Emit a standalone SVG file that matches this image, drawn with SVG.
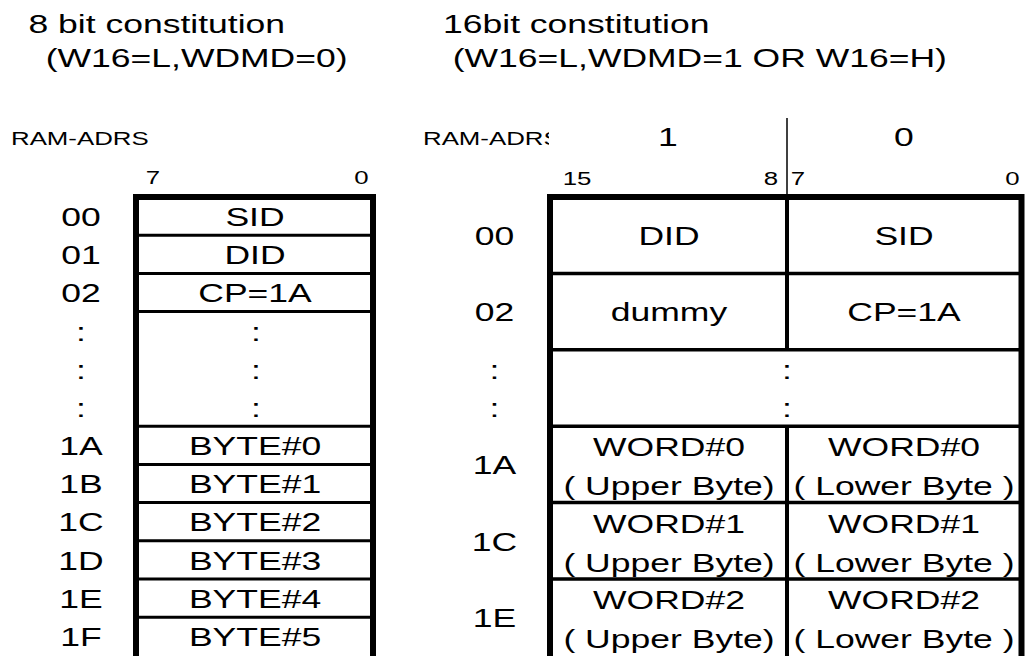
<svg xmlns="http://www.w3.org/2000/svg" width="1026" height="656" viewBox="0 0 1026 656">
<defs>
<style>
.t{font-family:"Liberation Sans",Arial,sans-serif;font-size:26.5px;fill:#000;text-anchor:middle}
.s{font-size:19px}
.st{text-anchor:start}
.thick{stroke:#000;stroke-width:6;fill:none}
.thin{stroke:#000;stroke-width:3;fill:none}
.mid{stroke:#000;stroke-width:3.5;fill:none}
.hair{stroke:#000;stroke-width:1.5;fill:none}
</style>
<clipPath id="clipR"><rect x="400" y="110" width="149" height="50"/></clipPath>
</defs>
<rect width="1026" height="656" fill="#fff"/>

<g id="titles">
<text class="t st" transform="translate(28.5,33) scale(1.34,1)">8 bit constitution</text>
<text class="t st" transform="translate(45.7,67) scale(1.34,1)">(W16=L,WDMD=0)</text>
<text class="t st" transform="translate(443,33) scale(1.34,1)">16bit constitution</text>
<text class="t st" transform="translate(452.7,67) scale(1.34,1)">(W16=L,WDMD=1 OR W16=H)</text>
</g>

<g id="table8">
<text class="t s st" transform="translate(11,145) scale(1.36,1)">RAM-ADRS</text>
<text class="t s" transform="translate(153,184) scale(1.36,1)">7</text>
<text class="t s" transform="translate(361.5,184) scale(1.36,1)">0</text>
<g id="frame8">
<path class="thick" d="M136,656 V197 H373 V656"/>
<path class="thin" d="M139,235.2 H370 M139,273.4 H370 M139,311.6 H370 M139,426.2 H370 M139,464.4 H370 M139,502.6 H370 M139,540.8 H370 M139,579 H370 M139,617.2 H370"/>
</g>
<g id="r8-00"><text class="t" transform="translate(81,225.8) scale(1.34,1)">00</text><text class="t" transform="translate(255,225.8) scale(1.34,1)">SID</text></g>
<g id="r8-01"><text class="t" transform="translate(81,264) scale(1.34,1)">01</text><text class="t" transform="translate(255,264) scale(1.34,1)">DID</text></g>
<g id="r8-02"><text class="t" transform="translate(81,302.2) scale(1.34,1)">02</text><text class="t" transform="translate(255,302.2) scale(1.34,1)">CP=1A</text></g>
<g id="r8-dots">
<text class="t" transform="translate(81,340.7) scale(1.34,1)">:</text><text class="t" transform="translate(256,340.7) scale(1.34,1)">:</text>
<text class="t" transform="translate(81,378.9) scale(1.34,1)">:</text><text class="t" transform="translate(256,378.9) scale(1.34,1)">:</text>
<text class="t" transform="translate(81,417.1) scale(1.34,1)">:</text><text class="t" transform="translate(256,417.1) scale(1.34,1)">:</text>
</g>
<g id="r8-1A"><text class="t" transform="translate(81,455) scale(1.34,1)">1A</text><text class="t" transform="translate(255,455) scale(1.34,1)">BYTE#0</text></g>
<g id="r8-1B"><text class="t" transform="translate(81,493.2) scale(1.34,1)">1B</text><text class="t" transform="translate(255,493.2) scale(1.34,1)">BYTE#1</text></g>
<g id="r8-1C"><text class="t" transform="translate(81,531.4) scale(1.34,1)">1C</text><text class="t" transform="translate(255,531.4) scale(1.34,1)">BYTE#2</text></g>
<g id="r8-1D"><text class="t" transform="translate(81,569.6) scale(1.34,1)">1D</text><text class="t" transform="translate(255,569.6) scale(1.34,1)">BYTE#3</text></g>
<g id="r8-1E"><text class="t" transform="translate(81,607.8) scale(1.34,1)">1E</text><text class="t" transform="translate(255,607.8) scale(1.34,1)">BYTE#4</text></g>
<g id="r8-1F"><text class="t" transform="translate(81,646) scale(1.34,1)">1F</text><text class="t" transform="translate(255,646) scale(1.34,1)">BYTE#5</text></g>
</g>

<g id="table16">
<g clip-path="url(#clipR)"><text class="t s st" transform="translate(423,145) scale(1.36,1)">RAM-ADRS</text></g>
<text class="t" transform="translate(668,146) scale(1.34,1)">1</text>
<text class="t" transform="translate(904,146) scale(1.34,1)">0</text>
<text class="t s" transform="translate(577,185) scale(1.36,1)">15</text>
<text class="t s" transform="translate(771,185) scale(1.36,1)">8</text>
<text class="t s" transform="translate(798,185) scale(1.36,1)">7</text>
<text class="t s" transform="translate(1012.5,185) scale(1.36,1)">0</text>
<g id="frame16">
<path class="thick" d="M550,656 V197 H1021.5 V656"/>
<path class="mid" d="M553,273.4 H1019 M553,349.8 H1019 M553,426.2 H1019 M553,502.6 H1019 M553,579 H1019"/>
<path class="thick" style="stroke-width:4" d="M787,200 V349.8 M787,426.2 V656"/>
</g>
<g id="r16-00"><text class="t" transform="translate(494.5,244.9) scale(1.34,1)">00</text><text class="t" transform="translate(669,244.9) scale(1.34,1)">DID</text><text class="t" transform="translate(904,244.9) scale(1.34,1)">SID</text></g>
<g id="r16-02"><text class="t" transform="translate(494.5,321.3) scale(1.34,1)">02</text><text class="t" transform="translate(669,321.3) scale(1.34,1)">dummy</text><text class="t" transform="translate(904,321.3) scale(1.34,1)">CP=1A</text></g>
<g id="r16-dots">
<text class="t" transform="translate(494.5,378.9) scale(1.34,1)">:</text><text class="t" transform="translate(787,378.9) scale(1.34,1)">:</text>
<text class="t" transform="translate(494.5,417.1) scale(1.34,1)">:</text><text class="t" transform="translate(787,417.1) scale(1.34,1)">:</text>
</g>
<g id="r16-1A"><text class="t" transform="translate(494.5,474.1) scale(1.34,1)">1A</text>
<text class="t" transform="translate(669,456.2) scale(1.34,1)">WORD#0</text><text class="t" transform="translate(669,495.2) scale(1.34,1)">( Upper Byte)</text>
<text class="t" transform="translate(904,456.2) scale(1.34,1)">WORD#0</text><text class="t" transform="translate(904,495.2) scale(1.34,1)">( Lower Byte )</text></g>
<g id="r16-1C"><text class="t" transform="translate(494.5,550.5) scale(1.34,1)">1C</text>
<text class="t" transform="translate(669,532.6) scale(1.34,1)">WORD#1</text><text class="t" transform="translate(669,571.6) scale(1.34,1)">( Upper Byte)</text>
<text class="t" transform="translate(904,532.6) scale(1.34,1)">WORD#1</text><text class="t" transform="translate(904,571.6) scale(1.34,1)">( Lower Byte )</text></g>
<g id="r16-1E"><text class="t" transform="translate(494.5,626.9) scale(1.34,1)">1E</text>
<text class="t" transform="translate(669,609) scale(1.34,1)">WORD#2</text><text class="t" transform="translate(669,648) scale(1.34,1)">( Upper Byte)</text>
<text class="t" transform="translate(904,609) scale(1.34,1)">WORD#2</text><text class="t" transform="translate(904,648) scale(1.34,1)">( Lower Byte )</text></g>
</g>

<g id="connectors">
<path class="hair" d="M787,118 V197"/>
</g>
</svg>
